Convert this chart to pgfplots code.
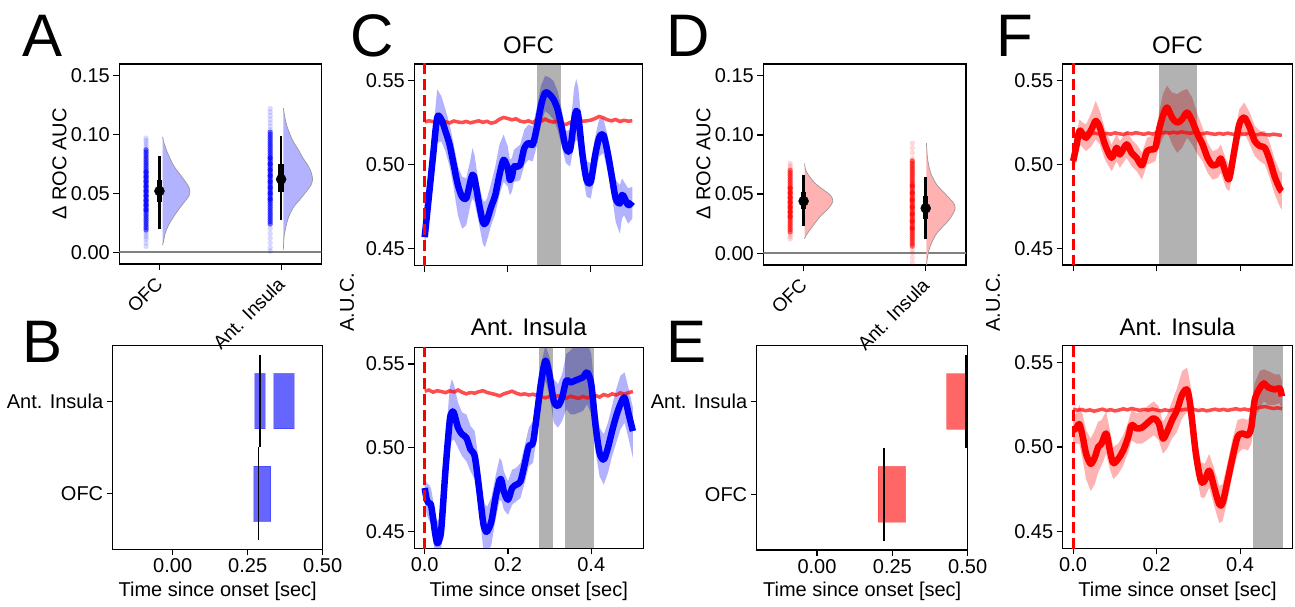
\documentclass[border=0pt]{standalone}
\usepackage{pgfplots}
\pgfplotsset{compat=1.18}
\usepackage{pgfplotstable}
\usepgfplotslibrary{fillbetween}
\usepackage{fontspec}
\setmainfont{Liberation Sans}
\newcommand{\fs}{\fontsize{20}{24}\selectfont}

\pgfplotstableread{
t m lo hi
0.000 0.457 0.451 0.462
0.010 0.481 0.472 0.490
0.020 0.505 0.494 0.518
0.030 0.528 0.513 0.545
0.040 0.527 0.514 0.541
0.050 0.520 0.508 0.533
0.060 0.512 0.499 0.524
0.070 0.500 0.486 0.512
0.080 0.488 0.470 0.499
0.090 0.481 0.462 0.493
0.100 0.480 0.464 0.492
0.110 0.490 0.476 0.503
0.115 0.494 0.480 0.510
0.120 0.492 0.478 0.506
0.130 0.478 0.466 0.489
0.140 0.466 0.453 0.479
0.145 0.465 0.451 0.478
0.150 0.467 0.455 0.480
0.160 0.475 0.464 0.489
0.170 0.482 0.471 0.499
0.180 0.494 0.482 0.512
0.190 0.503 0.490 0.518
0.200 0.498 0.487 0.511
0.205 0.491 0.482 0.503
0.210 0.493 0.484 0.504
0.215 0.499 0.490 0.509
0.220 0.499 0.490 0.510
0.230 0.500 0.491 0.512
0.240 0.510 0.500 0.521
0.250 0.513 0.503 0.524
0.260 0.512 0.502 0.523
0.270 0.522 0.511 0.534
0.280 0.535 0.524 0.547
0.290 0.543 0.532 0.553
0.300 0.542 0.530 0.552
0.310 0.539 0.527 0.550
0.320 0.533 0.521 0.544
0.330 0.522 0.511 0.533
0.340 0.510 0.501 0.520
0.350 0.509 0.499 0.521
0.360 0.527 0.512 0.546
0.365 0.532 0.515 0.551
0.370 0.529 0.513 0.546
0.380 0.506 0.494 0.519
0.390 0.491 0.481 0.502
0.400 0.490 0.480 0.501
0.410 0.505 0.494 0.516
0.420 0.516 0.505 0.527
0.430 0.518 0.507 0.528
0.440 0.508 0.497 0.518
0.450 0.494 0.483 0.505
0.460 0.480 0.466 0.491
0.470 0.477 0.459 0.488
0.475 0.482 0.468 0.492
0.480 0.481 0.470 0.490
0.490 0.476 0.465 0.486
0.500 0.478 0.468 0.487
}\Ctop

\pgfplotstableread{
t m lo hi
0.000 0.476 0.468 0.482
0.005 0.469 0.460 0.479
0.010 0.467 0.457 0.478
0.015 0.466 0.455 0.476
0.020 0.458 0.446 0.469
0.025 0.449 0.436 0.461
0.030 0.443 0.430 0.456
0.035 0.445 0.432 0.458
0.040 0.452 0.440 0.466
0.050 0.487 0.472 0.503
0.060 0.516 0.500 0.536
0.065 0.521 0.504 0.541
0.070 0.521 0.505 0.538
0.080 0.512 0.500 0.527
0.090 0.508 0.495 0.521
0.100 0.506 0.492 0.520
0.110 0.499 0.486 0.513
0.120 0.495 0.481 0.510
0.130 0.477 0.464 0.492
0.140 0.456 0.441 0.470
0.145 0.451 0.436 0.466
0.150 0.450 0.436 0.465
0.160 0.456 0.442 0.470
0.170 0.470 0.457 0.483
0.180 0.481 0.469 0.494
0.185 0.480 0.468 0.492
0.190 0.474 0.463 0.486
0.200 0.469 0.460 0.480
0.210 0.476 0.466 0.487
0.220 0.478 0.468 0.488
0.230 0.480 0.470 0.491
0.240 0.490 0.479 0.501
0.250 0.501 0.489 0.512
0.260 0.503 0.491 0.516
0.270 0.521 0.508 0.533
0.280 0.540 0.527 0.551
0.290 0.552 0.540 0.561
0.300 0.543 0.531 0.554
0.310 0.528 0.515 0.541
0.320 0.525 0.512 0.538
0.330 0.530 0.516 0.544
0.340 0.540 0.523 0.556
0.350 0.539 0.520 0.558
0.360 0.540 0.520 0.561
0.370 0.541 0.521 0.562
0.380 0.542 0.522 0.563
0.390 0.545 0.526 0.563
0.400 0.538 0.520 0.556
0.410 0.514 0.498 0.530
0.420 0.497 0.483 0.512
0.430 0.493 0.478 0.508
0.440 0.500 0.485 0.515
0.450 0.510 0.495 0.525
0.460 0.519 0.503 0.535
0.470 0.526 0.511 0.543
0.480 0.530 0.515 0.545
0.490 0.520 0.505 0.535
0.500 0.510 0.494 0.524
}\Cbot

\pgfplotstableread{
t m lo hi
0.000 0.502 0.496 0.508
0.007 0.510 0.502 0.517
0.015 0.520 0.512 0.527
0.023 0.518 0.510 0.525
0.031 0.516 0.508 0.524
0.044 0.521 0.511 0.531
0.054 0.526 0.515 0.538
0.064 0.522 0.512 0.532
0.076 0.512 0.503 0.521
0.092 0.504 0.496 0.512
0.104 0.510 0.502 0.518
0.112 0.506 0.498 0.514
0.128 0.512 0.504 0.520
0.140 0.507 0.499 0.515
0.152 0.504 0.496 0.512
0.165 0.4995 0.491 0.507
0.177 0.508 0.500 0.516
0.189 0.509 0.501 0.517
0.197 0.510 0.502 0.518
0.205 0.520 0.510 0.530
0.215 0.529 0.516 0.542
0.225 0.534 0.520 0.547
0.237 0.528 0.512 0.543
0.249 0.525 0.507 0.542
0.261 0.527 0.510 0.544
0.273 0.531 0.516 0.545
0.285 0.526 0.512 0.540
0.298 0.518 0.506 0.530
0.310 0.512 0.502 0.522
0.322 0.504 0.495 0.513
0.334 0.4995 0.491 0.508
0.346 0.5005 0.492 0.509
0.354 0.5035 0.495 0.512
0.366 0.4946 0.486 0.503
0.374 0.4916 0.484 0.500
0.386 0.508 0.499 0.517
0.398 0.524 0.515 0.533
0.410 0.528 0.519 0.537
0.423 0.522 0.512 0.531
0.435 0.514 0.505 0.523
0.447 0.511 0.502 0.520
0.459 0.510 0.500 0.520
0.471 0.5025 0.492 0.513
0.483 0.4926 0.482 0.503
0.495 0.4856 0.475 0.496
0.500 0.4840 0.473 0.495
}\Ftop

\pgfplotstableread{
t m lo hi
0.000 0.510 0.503 0.517
0.007 0.511 0.502 0.520
0.015 0.5135 0.502 0.525
0.023 0.506 0.492 0.519
0.031 0.496 0.481 0.510
0.042 0.490 0.474 0.505
0.052 0.494 0.478 0.510
0.060 0.500 0.485 0.515
0.068 0.502 0.489 0.516
0.079 0.508 0.496 0.521
0.088 0.498 0.487 0.510
0.096 0.4905 0.481 0.500
0.108 0.493 0.484 0.502
0.120 0.498 0.489 0.507
0.132 0.506 0.497 0.515
0.140 0.513 0.504 0.522
0.152 0.511 0.502 0.520
0.165 0.5115 0.502 0.521
0.177 0.514 0.504 0.524
0.193 0.517 0.507 0.527
0.205 0.514 0.504 0.524
0.215 0.505 0.496 0.515
0.225 0.509 0.499 0.519
0.237 0.516 0.505 0.527
0.249 0.522 0.509 0.535
0.261 0.531 0.517 0.545
0.273 0.534 0.521 0.547
0.281 0.524 0.512 0.537
0.294 0.496 0.485 0.508
0.306 0.480 0.470 0.491
0.315 0.480 0.470 0.490
0.326 0.486 0.476 0.496
0.338 0.476 0.465 0.487
0.350 0.466 0.455 0.477
0.358 0.467 0.456 0.478
0.370 0.480 0.469 0.491
0.382 0.494 0.484 0.505
0.394 0.506 0.496 0.516
0.406 0.508 0.499 0.517
0.419 0.507 0.498 0.516
0.427 0.512 0.502 0.522
0.435 0.528 0.517 0.538
0.447 0.5347 0.523 0.545
0.457 0.5377 0.527 0.546
0.467 0.5353 0.525 0.545
0.483 0.5341 0.525 0.543
0.495 0.5347 0.526 0.543
0.500 0.5300 0.521 0.539
}\Fbot

\pgfplotstableread{
t ct cb ft fb
0.00 0.5255 0.5338 0.5175 0.5225
0.01 0.5262 0.5345 0.5182 0.5218
0.02 0.5258 0.5332 0.5178 0.5222
0.03 0.5250 0.5341 0.5186 0.5215
0.04 0.5263 0.5336 0.5180 0.5220
0.05 0.5257 0.5329 0.5188 0.5212
0.06 0.5249 0.5340 0.5183 0.5218
0.07 0.5261 0.5333 0.5178 0.5224
0.08 0.5255 0.5345 0.5186 0.5216
0.09 0.5252 0.5331 0.5181 0.5221
0.10 0.5258 0.5322 0.5189 0.5214
0.11 0.5250 0.5330 0.5184 0.5219
0.12 0.5256 0.5326 0.5179 0.5226
0.13 0.5262 0.5335 0.5188 0.5220
0.14 0.5253 0.5341 0.5183 0.5228
0.15 0.5259 0.5330 0.5190 0.5222
0.16 0.5248 0.5324 0.5185 0.5217
0.17 0.5254 0.5318 0.5180 0.5223
0.18 0.5271 0.5310 0.5188 0.5218
0.19 0.5282 0.5322 0.5182 0.5225
0.20 0.5276 0.5330 0.5190 0.5219
0.21 0.5268 0.5338 0.5186 0.5214
0.22 0.5274 0.5326 0.5192 0.5220
0.23 0.5260 0.5318 0.5187 0.5215
0.24 0.5255 0.5322 0.5193 0.5221
0.25 0.5262 0.5315 0.5188 0.5226
0.26 0.5251 0.5320 0.5195 0.5219
0.27 0.5266 0.5312 0.5190 0.5224
0.28 0.5258 0.5305 0.5186 0.5218
0.29 0.5272 0.5298 0.5192 0.5222
0.30 0.5260 0.5306 0.5187 0.5216
0.31 0.5254 0.5300 0.5183 0.5221
0.32 0.5263 0.5311 0.5189 0.5214
0.33 0.5245 0.5304 0.5184 0.5219
0.34 0.5240 0.5296 0.5180 0.5224
0.35 0.5252 0.5308 0.5186 0.5218
0.36 0.5262 0.5301 0.5181 0.5223
0.37 0.5271 0.5295 0.5187 0.5217
0.38 0.5259 0.5306 0.5182 0.5222
0.39 0.5262 0.5298 0.5178 0.5227
0.40 0.5266 0.5305 0.5184 0.5220
0.41 0.5275 0.5312 0.5180 0.5225
0.42 0.5288 0.5303 0.5186 0.5219
0.43 0.5280 0.5318 0.5181 0.5226
0.44 0.5268 0.5310 0.5177 0.5230
0.45 0.5262 0.5322 0.5183 0.5236
0.46 0.5270 0.5315 0.5179 0.5240
0.47 0.5258 0.5328 0.5176 0.5233
0.48 0.5265 0.5320 0.5181 0.5228
0.49 0.5260 0.5330 0.5177 0.5232
0.50 0.5262 0.5336 0.5174 0.5226
}\Chance

\pgfplotsset{
  every axis/.append style={
    scale only axis, anchor=north west,
    axis line style={line width=1.2pt},
    every tick/.style={black, line width=1.2pt},
    major tick length=6pt,
    tick align=outside, tick pos=left,
    tick label style={font=\fs},
    /pgf/number format/assume math mode=true,
  },
  violinax/.style={
    xmin=-0.33, xmax=1.33, ymin=-0.01, ymax=0.16,
    xtick={0,1}, xticklabels={OFC,Ant. Insula},
    xticklabel style={xshift=-5pt, yshift=-1pt, rotate=45, anchor=north east, font=\fontsize{19}{22}\selectfont},
    ytick={0,0.05,0.1,0.15}, scaled y ticks=false,
    yticklabel style={/pgf/number format/.cd, fixed, fixed zerofill, precision=2},
  },
  barax/.style={
    xmin=-0.2, xmax=0.5, ymin=-0.6, ymax=1.6,
    xtick={0,0.25,0.5}, scaled x ticks=false,
    xticklabel style={/pgf/number format/.cd, fixed, fixed zerofill, precision=2},
    ytick={0,1}, yticklabels={OFC,Ant. Insula},
  },
  timeax/.style={
    xmin=-0.025, xmax=0.525, ymin=0.44, ymax=0.56,
    xtick={0,0.2,0.4}, ytick={0.45,0.5,0.55},
    xticklabel style={/pgf/number format/.cd, fixed, fixed zerofill, precision=1},
    yticklabel style={/pgf/number format/.cd, fixed, fixed zerofill, precision=2},
  },
  dots/.style={only marks, mark=*, mark size=2.7pt, color=#1, draw opacity=0},
}

\begin{document}
\begin{tikzpicture}
\path (0,0) rectangle (1295pt,607pt);

% ---------------- A ----------------
\begin{axis}[violinax, at={(119.3pt,543pt)}, width=202pt, height=200pt]
\addplot[black!50, line width=1.5pt, mark=none] coordinates {(-0.4,0) (1.4,0)};
\addplot[dots=blue, fill opacity=0.15] coordinates {
(-0.11,0.005) (-0.11,0.008) (-0.11,0.011) (-0.11,0.013) (-0.11,0.015) (-0.11,0.017)
(-0.11,0.089) (-0.11,0.091) (-0.11,0.093) (-0.11,0.095) (-0.11,0.097)};
\addplot[dots=blue, fill opacity=0.6] coordinates {
(-0.11,0.019) (-0.11,0.021) (-0.11,0.023) (-0.11,0.025) (-0.11,0.027) (-0.11,0.029)
(-0.11,0.031) (-0.11,0.033) (-0.11,0.035) (-0.11,0.037) (-0.11,0.039) (-0.11,0.041)
(-0.11,0.043) (-0.11,0.045) (-0.11,0.047) (-0.11,0.049) (-0.11,0.051) (-0.11,0.053)
(-0.11,0.055) (-0.11,0.057) (-0.11,0.059) (-0.11,0.061) (-0.11,0.063) (-0.11,0.065)
(-0.11,0.067) (-0.11,0.069) (-0.11,0.071) (-0.11,0.073) (-0.11,0.075) (-0.11,0.077)
(-0.11,0.079) (-0.11,0.081) (-0.11,0.083) (-0.11,0.085) (-0.11,0.087)
(-0.11,0.036) (-0.11,0.040) (-0.11,0.044) (-0.11,0.048) (-0.11,0.052) (-0.11,0.056)
(-0.11,0.060) (-0.11,0.064) (-0.11,0.068)};
\addplot[dots=blue, fill opacity=0.15] coordinates {
(0.91,0.001) (0.91,0.004) (0.91,0.008) (0.91,0.012) (0.91,0.016) (0.91,0.020)
(0.91,0.104) (0.91,0.107) (0.91,0.110) (0.91,0.113) (0.91,0.116) (0.91,0.119) (0.91,0.122)};
\addplot[dots=blue, fill opacity=0.6] coordinates {
(0.91,0.024) (0.91,0.026) (0.91,0.028) (0.91,0.030) (0.91,0.032) (0.91,0.034)
(0.91,0.036) (0.91,0.038) (0.91,0.040) (0.91,0.042) (0.91,0.044) (0.91,0.046)
(0.91,0.048) (0.91,0.050) (0.91,0.052) (0.91,0.054) (0.91,0.056) (0.91,0.058)
(0.91,0.060) (0.91,0.062) (0.91,0.064) (0.91,0.066) (0.91,0.068) (0.91,0.070)
(0.91,0.072) (0.91,0.074) (0.91,0.076) (0.91,0.078) (0.91,0.080) (0.91,0.082)
(0.91,0.084) (0.91,0.086) (0.91,0.088) (0.91,0.090) (0.91,0.092) (0.91,0.094)
(0.91,0.096) (0.91,0.098) (0.91,0.100) (0.91,0.102)
(0.91,0.045) (0.91,0.050) (0.91,0.055) (0.91,0.060) (0.91,0.065) (0.91,0.070) (0.91,0.075) (0.91,0.080)};
% violins
\addplot[smooth, fill=blue!30, draw=black!40, line width=0.7pt, mark=none] coordinates {
(0.025,0.006) (0.035,0.010) (0.047,0.016) (0.07,0.022) (0.115,0.030) (0.17,0.038)
(0.215,0.044) (0.243,0.048) (0.25,0.051) (0.243,0.055) (0.22,0.059) (0.17,0.066)
(0.12,0.073) (0.09,0.079) (0.06,0.086) (0.04,0.092) (0.03,0.096) (0.025,0.098)};
\addplot[smooth, fill=blue!30, draw=black!40, line width=0.7pt, mark=none] coordinates {
(1.018,0.002) (1.025,0.014) (1.055,0.028) (1.10,0.038) (1.156,0.045) (1.21,0.052)
(1.245,0.057) (1.258,0.0615) (1.25,0.067) (1.225,0.073) (1.18,0.080) (1.142,0.087)
(1.10,0.094) (1.07,0.101) (1.045,0.108) (1.03,0.115) (1.018,0.1225)};
% boxes
\addplot[black, line width=2.7pt, mark=none] coordinates {(0,0.020) (0,0.082)};
\addplot[black, line width=5.5pt, mark=none] coordinates {(0,0.043) (0,0.061)};
\addplot[only marks, mark=*, mark size=5pt, black] coordinates {(0,0.052)};
\addplot[black, line width=2.7pt, mark=none] coordinates {(1,0.027) (1,0.099)};
\addplot[black, line width=5.5pt, mark=none] coordinates {(1,0.051) (1,0.075)};
\addplot[only marks, mark=*, mark size=5pt, black] coordinates {(1,0.062)};
\end{axis}

% ---------------- D ----------------
\begin{axis}[violinax, at={(763.3pt,543pt)}, width=202.7pt, height=201pt]
\addplot[black!50, line width=1.5pt, mark=none] coordinates {(-0.4,0) (1.4,0)};
\addplot[dots=red, fill opacity=0.15] coordinates {
(-0.11,0.012) (-0.11,0.014) (-0.11,0.016) (-0.11,0.072) (-0.11,0.074) (-0.11,0.076)};
\addplot[dots=red, fill opacity=0.6] coordinates {
(-0.11,0.018) (-0.11,0.020) (-0.11,0.022) (-0.11,0.024) (-0.11,0.026) (-0.11,0.028)
(-0.11,0.030) (-0.11,0.032) (-0.11,0.034) (-0.11,0.036) (-0.11,0.038) (-0.11,0.040)
(-0.11,0.042) (-0.11,0.044) (-0.11,0.046) (-0.11,0.048) (-0.11,0.050) (-0.11,0.052)
(-0.11,0.054) (-0.11,0.056) (-0.11,0.058) (-0.11,0.060) (-0.11,0.062) (-0.11,0.064)
(-0.11,0.066) (-0.11,0.068) (-0.11,0.070)
(-0.11,0.031) (-0.11,0.035) (-0.11,0.039) (-0.11,0.043) (-0.11,0.047) (-0.11,0.051) (-0.11,0.055)};
\addplot[dots=red, fill opacity=0.15] coordinates {
(0.89,-0.008) (0.89,-0.004) (0.89,0.000) (0.89,0.003) (0.89,0.080) (0.89,0.085) (0.89,0.089) (0.89,0.093)};
\addplot[dots=red, fill opacity=0.6] coordinates {
(0.89,0.006) (0.89,0.008) (0.89,0.010) (0.89,0.012) (0.89,0.014) (0.89,0.016)
(0.89,0.018) (0.89,0.020) (0.89,0.022) (0.89,0.024) (0.89,0.026) (0.89,0.028)
(0.89,0.030) (0.89,0.032) (0.89,0.034) (0.89,0.036) (0.89,0.038) (0.89,0.040)
(0.89,0.042) (0.89,0.044) (0.89,0.046) (0.89,0.048) (0.89,0.050) (0.89,0.052)
(0.89,0.054) (0.89,0.056) (0.89,0.058) (0.89,0.060) (0.89,0.062) (0.89,0.064)
(0.89,0.066) (0.89,0.068) (0.89,0.070) (0.89,0.072) (0.89,0.074) (0.89,0.076) (0.89,0.078)
(0.89,0.021) (0.89,0.027) (0.89,0.033) (0.89,0.039) (0.89,0.045) (0.89,0.051) (0.89,0.057)};
\addplot[smooth, fill=red!30, draw=black!40, line width=0.7pt, mark=none] coordinates {
(0.008,0.012) (0.02,0.015) (0.068,0.022) (0.136,0.031) (0.205,0.038) (0.24,0.044)
(0.22,0.049) (0.17,0.053) (0.095,0.059) (0.04,0.066) (0.015,0.071) (0.008,0.076)};
\addplot[smooth, fill=red!30, draw=black!40, line width=0.7pt, mark=none] coordinates {
(1.006,-0.015) (1.012,-0.005) (1.035,0.0054) (1.09,0.0167) (1.19,0.028) (1.24,0.037)
(1.23,0.042) (1.17,0.049) (1.09,0.058) (1.04,0.068) (1.015,0.080) (1.006,0.093)};
\addplot[black, line width=2.7pt, mark=none] coordinates {(0,0.023) (0,0.066)};
\addplot[black, line width=5.5pt, mark=none] coordinates {(0,0.037) (0,0.052)};
\addplot[only marks, mark=*, mark size=5pt, black] coordinates {(0,0.044)};
\addplot[black, line width=2.7pt, mark=none] coordinates {(1,0.0116) (1,0.064)};
\addplot[black, line width=5.5pt, mark=none] coordinates {(1,0.029) (1,0.048)};
\addplot[only marks, mark=*, mark size=5pt, black] coordinates {(1,0.038)};
\end{axis}

% ---------------- B ----------------
\begin{axis}[barax, at={(112.7pt,261.3pt)}, width=210pt, height=203.6pt]
\addplot[fill=blue, fill opacity=0.6, draw=blue, draw opacity=0.25, line width=1pt, mark=none] coordinates {(0.274,0.7) (0.308,0.7) (0.308,1.3) (0.274,1.3) (0.274,0.7)};
\addplot[fill=blue, fill opacity=0.6, draw=blue, draw opacity=0.25, line width=1pt, mark=none] coordinates {(0.337,0.7) (0.405,0.7) (0.405,1.3) (0.337,1.3) (0.337,0.7)};
\addplot[fill=blue, fill opacity=0.6, draw=blue, draw opacity=0.25, line width=1pt, mark=none] coordinates {(0.271,-0.3) (0.327,-0.3) (0.327,0.3) (0.271,0.3) (0.271,-0.3)};
\addplot[black, line width=1.8pt, mark=none] coordinates {(0.292,0.5) (0.292,1.5)};
\addplot[black, line width=1.8pt, mark=none] coordinates {(0.286,-0.5) (0.286,0.5)};
\end{axis}

% ---------------- E ----------------
\begin{axis}[barax, at={(756.7pt,261.3pt)}, width=211pt, height=204.3pt]
\addplot[fill=red, fill opacity=0.6, draw=red, draw opacity=0.25, line width=1pt, mark=none] coordinates {(0.430,0.7) (0.494,0.7) (0.494,1.3) (0.430,1.3) (0.430,0.7)};
\addplot[fill=red, fill opacity=0.6, draw=red, draw opacity=0.25, line width=1pt, mark=none] coordinates {(0.203,-0.3) (0.294,-0.3) (0.294,0.3) (0.203,0.3) (0.203,-0.3)};
\addplot[black, line width=1.8pt, mark=none] coordinates {(0.495,0.5) (0.495,1.5)};
\addplot[black, line width=1.8pt, mark=none] coordinates {(0.223,-0.5) (0.223,0.5)};
\end{axis}

% ---------------- C top ----------------
\begin{axis}[timeax, at={(414.3pt,543pt)}, width=228.4pt, height=201.7pt, xticklabels={}]
\addplot[draw=none, mark=none, name path=cthi] table[x=t,y=hi] {\Ctop};
\addplot[draw=none, mark=none, name path=ctlo] table[x=t,y=lo] {\Ctop};
\addplot[blue, fill opacity=0.3, draw=none] fill between[of=cthi and ctlo];
\addplot[fill=black, fill opacity=0.3, draw=none, mark=none] coordinates {(0.271,0.43) (0.329,0.43) (0.329,0.57) (0.271,0.57)};
\addplot[red, opacity=0.7, line width=3.5pt, mark=none] table[x=t,y=ct] {\Chance};
\addplot[blue, line width=6.5pt, smooth, mark=none, line join=round] table[x=t,y=m] {\Ctop};
\addplot[red, line width=3.3pt, dash pattern=on 11pt off 5pt, mark=none] coordinates {(0,0.43) (0,0.57)};
\end{axis}

% ---------------- C bottom ----------------
\begin{axis}[timeax, at={(414.3pt,259.7pt)}, width=229pt, height=201pt]
\addplot[draw=none, mark=none, name path=cbhi] table[x=t,y=hi] {\Cbot};
\addplot[draw=none, mark=none, name path=cblo] table[x=t,y=lo] {\Cbot};
\addplot[blue, fill opacity=0.3, draw=none] fill between[of=cbhi and cblo];
\addplot[fill=black, fill opacity=0.3, draw=none, mark=none] coordinates {(0.275,0.43) (0.309,0.43) (0.309,0.57) (0.275,0.57)};
\addplot[fill=black, fill opacity=0.3, draw=none, mark=none] coordinates {(0.337,0.43) (0.406,0.43) (0.406,0.57) (0.337,0.57)};
\addplot[red, opacity=0.7, line width=3.5pt, mark=none] table[x=t,y=cb] {\Chance};
\addplot[blue, line width=6.5pt, smooth, mark=none, line join=round] table[x=t,y=m] {\Cbot};
\addplot[red, line width=3.3pt, dash pattern=on 11pt off 5pt, mark=none] coordinates {(0,0.43) (0,0.57)};
\end{axis}

% ---------------- F top ----------------
\begin{axis}[timeax, at={(1062.7pt,543pt)}, width=229.6pt, height=201pt, xticklabels={}]
\addplot[draw=none, mark=none, name path=fthi] table[x=t,y=hi] {\Ftop};
\addplot[draw=none, mark=none, name path=ftlo] table[x=t,y=lo] {\Ftop};
\addplot[red, fill opacity=0.3, draw=none] fill between[of=fthi and ftlo];
\addplot[fill=black, fill opacity=0.3, draw=none, mark=none] coordinates {(0.205,0.43) (0.296,0.43) (0.296,0.57) (0.205,0.57)};
\addplot[red, opacity=0.7, line width=3.5pt, mark=none] table[x=t,y=ft] {\Chance};
\addplot[red, line width=6.5pt, smooth, mark=none, line join=round] table[x=t,y=m] {\Ftop};
\addplot[red, line width=3.3pt, dash pattern=on 11pt off 5pt, mark=none] coordinates {(0,0.43) (0,0.57)};
\end{axis}

% ---------------- F bottom ----------------
\begin{axis}[timeax, at={(1062.7pt,261.3pt)}, width=229.6pt, height=202.6pt]
\addplot[draw=none, mark=none, name path=fbhi] table[x=t,y=hi] {\Fbot};
\addplot[draw=none, mark=none, name path=fblo] table[x=t,y=lo] {\Fbot};
\addplot[red, fill opacity=0.3, draw=none] fill between[of=fbhi and fblo];
\addplot[fill=black, fill opacity=0.3, draw=none, mark=none] coordinates {(0.432,0.43) (0.502,0.43) (0.502,0.57) (0.432,0.57)};
\addplot[red, opacity=0.7, line width=3.5pt, mark=none] table[x=t,y=fb] {\Chance};
\addplot[red, line width=6.5pt, smooth, mark=none, line join=round] table[x=t,y=m] {\Fbot};
\addplot[red, line width=3.3pt, dash pattern=on 11pt off 5pt, mark=none] coordinates {(0,0.43) (0,0.57)};
\end{axis}

% ---------------- labels ----------------
\begin{scope}[every node/.style={inner sep=0pt}]
\node[anchor=base west, font=\fontsize{60}{60}\selectfont] at (22.5pt,550pt) {A};
\node[anchor=base west, font=\fontsize{60}{60}\selectfont] at (22.5pt,244pt) {B};
\node[anchor=base west, font=\fontsize{60}{60}\selectfont] at (350pt,550pt) {C};
\node[anchor=base west, font=\fontsize{60}{60}\selectfont] at (666pt,550pt) {D};
\node[anchor=base west, font=\fontsize{60}{60}\selectfont] at (666pt,244pt) {E};
\node[anchor=base west, font=\fontsize{60}{60}\selectfont] at (996pt,550pt) {F};

\node[rotate=90, font=\fs] at (59.5pt,443pt) {Δ ROC AUC};
\node[rotate=90, font=\fs] at (703.5pt,443pt) {Δ ROC AUC};
\node[rotate=90, font=\fs] at (347pt,305pt) {A.U.C.};
\node[rotate=90, font=\fs] at (993pt,305pt) {A.U.C.};

\node[anchor=base, font=\fontsize{24}{28}\selectfont] at (528.5pt,553.5pt) {OFC};
\node[anchor=base, font=\fontsize{24}{28}\selectfont] at (528.8pt,271pt) {Ant. Insula};
\node[anchor=base, font=\fontsize{24}{28}\selectfont] at (1177.5pt,553.5pt) {OFC};
\node[anchor=base, font=\fontsize{24}{28}\selectfont] at (1177.5pt,271pt) {Ant. Insula};

\node[anchor=base, font=\fs] at (217.7pt,10pt) {Time since onset [sec]};
\node[anchor=base, font=\fs] at (528.8pt,10pt) {Time since onset [sec]};
\node[anchor=base, font=\fs] at (862.2pt,10pt) {Time since onset [sec]};
\node[anchor=base, font=\fs] at (1177.5pt,10pt) {Time since onset [sec]};
\end{scope}
\end{tikzpicture}
\end{document}
